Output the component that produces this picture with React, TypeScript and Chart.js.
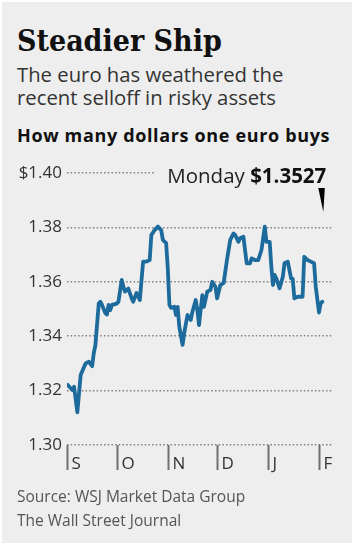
import React, { useEffect, useRef } from 'react';
import { Chart, registerables } from 'chart.js';

Chart.register(...registerables);

// Days counted from Sept 1, 2013 (EUR/USD, dollars per euro)
const days = [
  0, 3, 4, 6, 8, 11, 13, 15, 16, 17, 19, 20, 21, 23, 24, 25, 26, 27, 30, 31,
  33, 34, 35, 37, 39, 40, 42, 44, 46, 48, 50, 51, 53, 55, 57, 58, 60, 61, 62, 63,
  65, 66, 67, 68, 70, 71, 73, 75, 76, 78, 79, 80, 82, 83, 85, 87, 88, 90, 91, 93,
  95, 97, 99, 101, 102, 104, 105, 107, 108, 109, 111, 112, 114, 116, 118, 120, 121, 123, 124, 125,
  126, 127, 129, 131, 132, 134, 136, 137, 138, 140, 143, 144, 146, 148, 150, 151, 153, 154, 155,
];
const values = [
  1.3221, 1.3202, 1.3214, 1.3120, 1.3257, 1.3300, 1.3306, 1.3290, 1.3338, 1.3368,
  1.3520, 1.3527, 1.3515, 1.3485, 1.3480, 1.3515, 1.3496, 1.3515, 1.3520, 1.3527,
  1.3607, 1.3582, 1.3564, 1.3575, 1.3540, 1.3527, 1.3559, 1.3533, 1.3674, 1.3674,
  1.3680, 1.3772, 1.3790, 1.3803, 1.3790, 1.3754, 1.3742, 1.3650, 1.3515, 1.3504,
  1.3508, 1.3478, 1.3508, 1.3435, 1.3368, 1.3412, 1.3478, 1.3460, 1.3490, 1.3533,
  1.3496, 1.3441, 1.3551, 1.3508, 1.3564, 1.3570, 1.3600, 1.3582, 1.3539, 1.3588,
  1.3596, 1.3680, 1.3754, 1.3778, 1.3772, 1.3747, 1.3760, 1.3766, 1.3717, 1.3668,
  1.3668, 1.3686, 1.3680, 1.3680, 1.3717, 1.3803, 1.3747, 1.3747, 1.3655, 1.3588,
  1.3625, 1.3613, 1.3576, 1.3619, 1.3668, 1.3674, 1.3613, 1.3611, 1.3539, 1.3545,
  1.3545, 1.3692, 1.3680, 1.3674, 1.3668, 1.3582, 1.3487, 1.3521, 1.3527,
];

const yTickValues = [1.30, 1.32, 1.34, 1.36, 1.38, 1.40];
const yTickLabels = ['1.30', '1.32', '1.34', '1.36', '1.38', '$1.40'];
const monthTickDays = [0, 30, 61, 91, 122, 153];
const monthTickLabels = ['S', 'O', 'N', 'D', 'J', 'F'];
const lastLabel = 'Monday';
const lastValueLabel = '$1.3527';

const SANS = '"Open Sans", "DejaVu Sans", sans-serif';
const PANEL = '#eeeeee';
const LINE = '#1d6b9c';

export default function App() {
  const ref = useRef<HTMLCanvasElement>(null);

  useEffect(() => {
    const canvas = ref.current;
    if (!canvas) return;

    const monthAxisPlugin = {
      id: 'monthAxis',
      afterDraw(chart: any) {
        const { ctx, chartArea, scales } = chart;
        const x = scales.x;
        ctx.save();
        monthTickDays.forEach((d, i) => {
          const px = Math.round(x.getPixelForValue(d)) + 0.5;
          ctx.strokeStyle = '#707070';
          ctx.lineWidth = 2;
          ctx.beginPath();
          ctx.moveTo(px, chartArea.bottom);
          ctx.lineTo(px, chartArea.bottom + 25);
          ctx.stroke();
          ctx.fillStyle = '#333';
          ctx.font = `17px ${SANS}`;
          ctx.textAlign = 'left';
          ctx.textBaseline = 'alphabetic';
          ctx.fillText(monthTickLabels[i], px + 4, chartArea.bottom + 24);
        });
        ctx.restore();
      },
    };

    const lastValuePlugin = {
      id: 'lastValue',
      afterDraw(chart: any) {
        const { ctx, chartArea, scales } = chart;
        const lastX = scales.x.getPixelForValue(days[days.length - 1]);
        const right = lastX + 4;
        const baseline = chartArea.top + 10;
        ctx.save();
        ctx.font = `bold 20.5px ${SANS}`;
        const wB = ctx.measureText(lastValueLabel).width;
        ctx.font = `20.5px ${SANS}`;
        const wR = ctx.measureText(lastLabel + ' ').width;
        const start = right - wB - wR;
        ctx.fillStyle = PANEL;
        ctx.fillRect(start - 12, chartArea.top - 3, chartArea.right - start + 14, 6);
        ctx.fillStyle = '#222';
        ctx.textAlign = 'left';
        ctx.textBaseline = 'alphabetic';
        ctx.fillText(lastLabel + ' ', start, baseline);
        ctx.font = `bold 20.5px ${SANS}`;
        ctx.fillStyle = '#111';
        ctx.fillText(lastValueLabel, start + wR, baseline);
        // pointer wedge
        ctx.fillStyle = '#000';
        ctx.beginPath();
        ctx.moveTo(lastX - 4, chartArea.top + 15);
        ctx.lineTo(lastX + 2.5, chartArea.top + 15);
        ctx.lineTo(lastX + 1, chartArea.top + 39);
        ctx.closePath();
        ctx.fill();
        ctx.restore();
      },
    };

    const chart = new Chart(canvas, {
      type: 'line',
      data: {
        datasets: [
          {
            data: days.map((d, i) => ({ x: d, y: values[i] })),
            borderColor: LINE,
            borderWidth: 3.8,
            pointRadius: 0,
            tension: 0,
            borderJoinStyle: 'round',
            borderCapStyle: 'round',
          },
        ],
      },
      options: {
        responsive: false,
        animation: false,
        events: [],
        layout: { padding: { top: 23, right: 23, left: 0, bottom: 0 } },
        plugins: {
          legend: { display: false },
          tooltip: { enabled: false },
          title: { display: false },
        },
        scales: {
          x: {
            type: 'linear',
            min: -0.3,
            max: 161.5,
            grid: { display: false },
            border: { display: false },
            ticks: { display: false },
            afterFit(scale: any) {
              scale.height = 40;
            },
          },
          y: {
            type: 'linear',
            min: 1.30,
            max: 1.40,
            afterBuildTicks(scale: any) {
              scale.ticks = yTickValues.map((v) => ({ value: v }));
            },
            afterFit(scale: any) {
              scale.width = 67;
            },
            grid: {
              color: '#808080',
              lineWidth: 1.5,
              drawTicks: false,
            },
            border: { display: false, dash: [1.5, 2.2] },
            ticks: {
              padding: 5,
              color: '#333',
              font: { family: SANS, size: 17 },
              callback: (_v: any, i: number) => yTickLabels[i],
            },
          },
        },
      },
      plugins: [monthAxisPlugin, lastValuePlugin],
    });

    return () => chart.destroy();
  }, []);

  const text = (extra: React.CSSProperties): React.CSSProperties => ({
    position: 'absolute',
    left: 17,
    whiteSpace: 'nowrap',
    margin: 0,
    ...extra,
  });

  return (
    <div style={{ position: 'absolute', left: 0, top: 0, width: 356, height: 548, background: '#fff', overflow: 'hidden' }}>
      <div style={{ position: 'absolute', left: 2, top: 2, width: 350, height: 541, background: PANEL }} />
      <div style={text({ top: 26, fontFamily: '"DejaVu Serif Condensed", "DejaVu Serif", serif', fontWeight: 'bold', fontSize: 30, lineHeight: '30px', color: '#111' })}>
        Steadier Ship
      </div>
      <div style={text({ top: 63, fontFamily: SANS, fontSize: 20.3, lineHeight: '23px', color: '#333' })}>
        The euro has weathered the
        <br />
        recent selloff in risky assets
      </div>
      <div style={text({ top: 126, fontFamily: SANS, fontWeight: 'bold', fontSize: 18, lineHeight: '18px', letterSpacing: 0.65, color: '#111' })}>
        How many dollars one euro buys
      </div>
      <canvas
        ref={ref}
        width={356}
        height={335}
        style={{ position: 'absolute', left: 0, top: 150, width: 356, height: 335 }}
      />
      <div style={text({ top: 484, fontFamily: SANS, fontSize: 15.5, lineHeight: '24px', color: '#555' })}>
        Source: WSJ Market Data Group
        <br />
        The Wall Street Journal
      </div>
    </div>
  );
}
